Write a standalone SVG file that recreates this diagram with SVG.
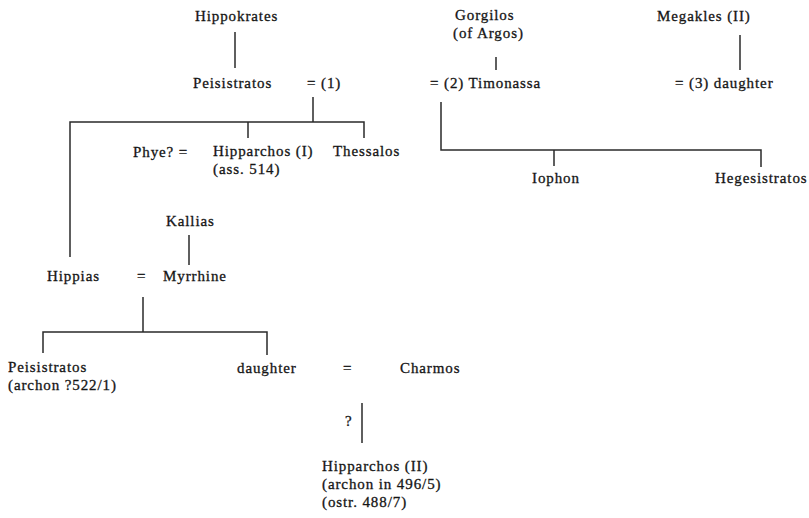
<svg xmlns="http://www.w3.org/2000/svg" width="809" height="518" viewBox="0 0 809 518">
<style>
text{font-family:"Liberation Serif","Times New Roman",serif;font-size:15px;letter-spacing:0.9px;fill:#151515;stroke:#151515;stroke-width:0.3px;}
.c line,.c polyline{stroke:#2a2a2a;stroke-width:1.5;fill:none;}
</style>
<rect width="809" height="518" fill="#ffffff"/>
<g class="c" id="connectors">
<line x1="235" y1="32" x2="235" y2="68"/>
<line x1="313" y1="97" x2="313" y2="122"/>
<polyline points="70,257 70,122 364,122 364,138"/>
<line x1="248" y1="122" x2="248" y2="138"/>
<line x1="496" y1="57" x2="496" y2="70"/>
<line x1="740" y1="35" x2="740" y2="70"/>
<polyline points="441,102 441,150 761,150 761,167"/>
<line x1="554" y1="150" x2="554" y2="166"/>
<line x1="189" y1="235" x2="189" y2="265"/>
<line x1="143" y1="297" x2="143" y2="332"/>
<polyline points="43,353 43,332 267,332 267,355"/>
<line x1="362" y1="403" x2="362" y2="443"/>
</g>
<g id="hippokrates"><text x="195" y="21">Hippokrates</text></g>
<g id="peisistratos"><text x="193" y="88">Peisistratos</text><text x="307" y="88">= (1)</text></g>
<g id="phye"><text x="133" y="157">Phye? =</text></g>
<g id="hipparchos1"><text x="213" y="156">Hipparchos (I)</text><text x="213" y="174">(ass. 514)</text></g>
<g id="thessalos"><text x="333" y="156">Thessalos</text></g>
<g id="gorgilos"><text x="455" y="20">Gorgilos</text><text x="453" y="38">(of Argos)</text></g>
<g id="timonassa"><text x="430" y="88">= (2) Timonassa</text></g>
<g id="megakles"><text x="657" y="21">Megakles (II)</text></g>
<g id="daughter3"><text x="675" y="88">= (3) daughter</text></g>
<g id="iophon"><text x="532" y="183">Iophon</text></g>
<g id="hegesistratos"><text x="715" y="183">Hegesistratos</text></g>
<g id="kallias"><text x="166" y="226">Kallias</text></g>
<g id="hippias"><text x="47" y="281">Hippias</text><text x="137" y="281">=</text></g>
<g id="myrrhine"><text x="163" y="281">Myrrhine</text></g>
<g id="peisistratos2"><text x="8" y="372">Peisistratos</text><text x="8" y="390">(archon ?522/1)</text></g>
<g id="daughter"><text x="237" y="373">daughter</text><text x="343" y="373">=</text></g>
<g id="charmos"><text x="400" y="373">Charmos</text></g>
<g id="q"><text x="345" y="426">?</text></g>
<g id="hipparchos2"><text x="322" y="471">Hipparchos (II)</text><text x="322" y="489">(archon in 496/5)</text><text x="322" y="507">(ostr. 488/7)</text></g>
</svg>
